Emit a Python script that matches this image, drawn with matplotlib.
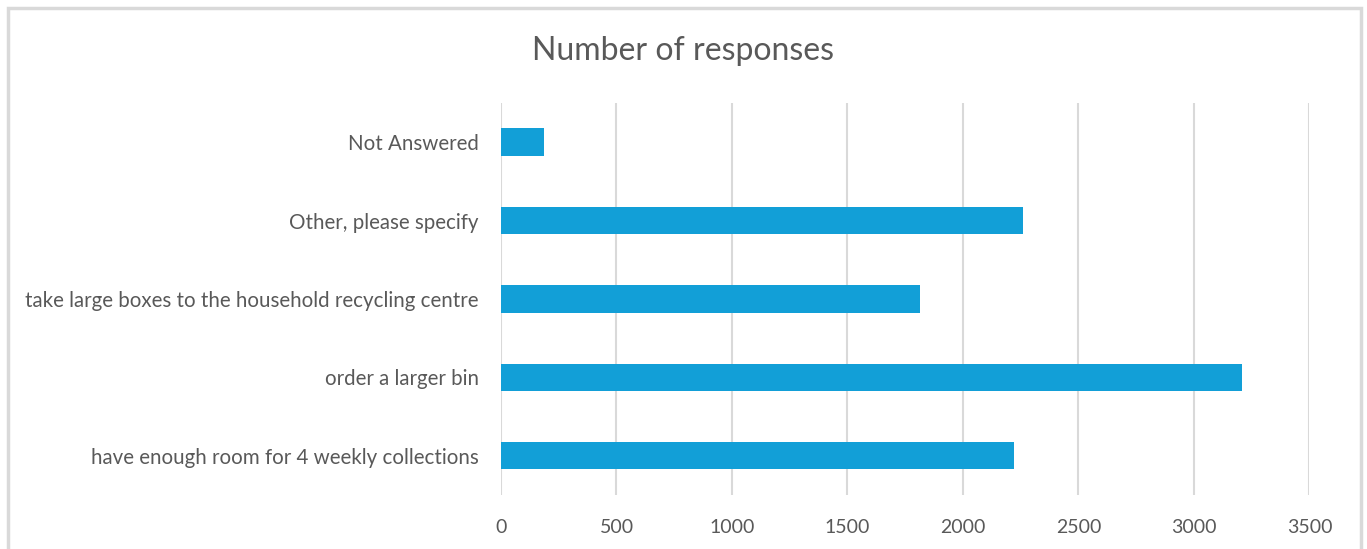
import matplotlib.pyplot as plt
from matplotlib.patches import Rectangle

# Daten
categories = [
    "have enough room for 4 weekly collections",
    "order a larger bin",
    "take large boxes to the household recycling centre",
    "Other, please specify",
    "Not Answered",
]
responses = [2221, 3208, 1814, 2260, 186]
xticks = [0, 500, 1000, 1500, 2000, 2500, 3000, 3500]

plt.rcParams['font.family'] = ['Lato', 'DejaVu Sans']
text_color = "#595959"
grid_color = "#D9D9D9"
bar_color = "#129FD7"

fig = plt.figure(figsize=(13.67, 5.49), dpi=100)
ax = fig.add_axes([0.3665, 0.0984, 0.5914, 0.714])

y = range(len(categories))
ax.barh(y, responses, height=0.35, color=bar_color, zorder=3)
ax.set_ylim(-0.5, len(categories) - 0.5)
ax.set_xlim(0, 3500)
ax.set_xticks(xticks)
ax.set_yticks(list(y))
ax.set_yticklabels(categories)

ax.grid(axis="x", color=grid_color, linewidth=1.5, zorder=0)
for s in ax.spines.values():
    s.set_visible(False)
ax.tick_params(axis="x", length=0, pad=17, labelsize=14, labelcolor=text_color)
ax.tick_params(axis="y", length=0, pad=16, labelsize=14.8, labelcolor=text_color)

fig.text(0.5, 0.908, "Number of responses", ha="center", va="center",
         fontsize=23, color=text_color)

# Rahmen um das Diagramm
fig.patches.append(Rectangle((8 / 1367, -0.05), 1353 / 1367, 1.05 - 8 / 549,
                             transform=fig.transFigure, fill=False,
                             edgecolor=grid_color, linewidth=2.5))

fig.savefig("out.png", dpi=100)
